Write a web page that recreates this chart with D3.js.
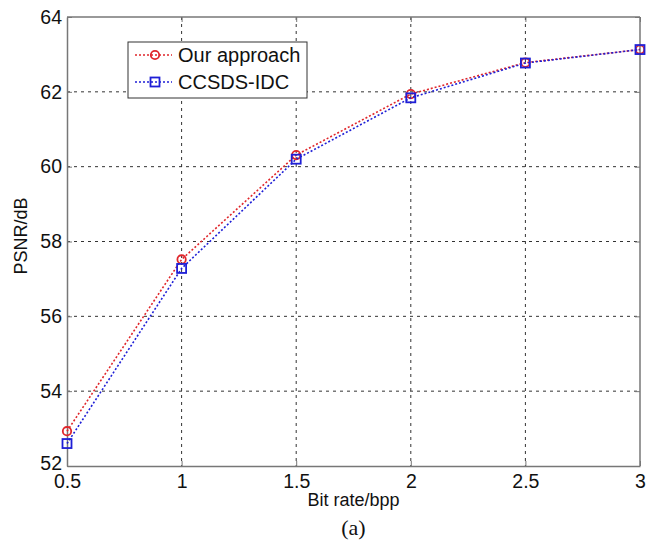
<!DOCTYPE html>
<html><head><meta charset="utf-8">
<script src="https://cdn.jsdelivr.net/npm/d3@7"></script>
<style>body{margin:0;background:#fff}</style>
</head><body>
<script>
const bitRates = [0.5, 1, 1.5, 2, 2.5, 3];
const ourApproach = [52.93, 57.52, 60.31, 61.94, 62.78, 63.13];
const ccsdsIdc = [52.60, 57.28, 60.20, 61.84, 62.77, 63.13];
const xTicks = [0.5, 1, 1.5, 2, 2.5, 3];
const xTickLabels = ["0.5", "1", "1.5", "2", "2.5", "3"];
const yTicks = [52, 54, 56, 58, 60, 62, 64];
const seriesNames = ["Our approach", "CCSDS-IDC"];

const W = 653, H = 544;
const m = {l: 67, r: 640, t: 17, b: 466};
const svg = d3.select("body").append("svg").attr("width", W).attr("height", H)
  .style("font-family", "'Liberation Sans', Arial, sans-serif");
svg.append("rect").attr("width", W).attr("height", H).attr("fill", "#fff");

const x = d3.scaleLinear().domain([0.5, 3]).range([m.l, m.r]);
const y = d3.scaleLinear().domain([52, 64]).range([m.b, m.t]);

// grid
const grid = svg.append("g");
grid.selectAll(".gx").data(xTicks.slice(1, -1)).enter().append("line")
  .attr("x1", d => x(d)).attr("x2", d => x(d)).attr("y1", m.t).attr("y2", m.b)
  .attr("stroke", "#333").attr("stroke-width", 1).attr("stroke-dasharray", "3,4");
grid.selectAll(".gy").data(yTicks.slice(1, -1)).enter().append("line")
  .attr("y1", d => y(d)).attr("y2", d => y(d)).attr("x1", m.l).attr("x2", m.r)
  .attr("stroke", "#333").attr("stroke-width", 1).attr("stroke-dasharray", "3,4");

// axes
const xAxis = d3.axisBottom(x).tickValues(xTicks).tickFormat((d, i) => xTickLabels[i]).tickSizeInner(-5).tickSizeOuter(0).tickPadding(8);
const yAxis = d3.axisLeft(y).tickValues(yTicks).tickSizeInner(-5).tickSizeOuter(0).tickPadding(5);
const gx = svg.append("g").attr("transform", `translate(0,${m.b})`).call(xAxis);
const gy = svg.append("g").attr("transform", `translate(${m.l},0)`).call(yAxis);
[gx, gy].forEach(g => {
  g.select(".domain").attr("stroke", "#777").attr("stroke-width", 1.5);
  g.selectAll(".tick line").attr("stroke", "#777");
  g.selectAll("text").attr("font-size", 19.5).attr("fill", "#111").attr("font-family", "'Liberation Sans', Arial, sans-serif");
});
gx.selectAll("text").attr("dy", "0.72em");
gy.selectAll("text").attr("dy", (d) => d === 52 ? "0.2em" : "0.32em");
// top & right frame
svg.append("line").attr("x1", m.l).attr("x2", m.r).attr("y1", m.t).attr("y2", m.t).attr("stroke", "#777").attr("stroke-width", 1.5);
svg.append("line").attr("x1", m.r).attr("x2", m.r).attr("y1", m.t).attr("y2", m.b).attr("stroke", "#777").attr("stroke-width", 1.5);
const gTop = svg.append("g").attr("transform", `translate(0,${m.t})`).call(d3.axisTop(x).tickValues(xTicks).tickSizeInner(-5).tickSizeOuter(0).tickFormat(""));
const gRight = svg.append("g").attr("transform", `translate(${m.r},0)`).call(d3.axisRight(y).tickValues(yTicks).tickSizeInner(-5).tickSizeOuter(0).tickFormat(""));
[gTop, gRight].forEach(g => { g.select(".domain").remove(); g.selectAll(".tick line").attr("stroke", "#777"); });

// series
const line = d3.line().x((d, i) => x(bitRates[i])).y(d => y(d));
const series = [
  {name: seriesNames[0], vals: ourApproach, color: "#e0262b", shape: "circle"},
  {name: seriesNames[1], vals: ccsdsIdc, color: "#1f1fd6", shape: "square"}
];
function marker(g, shape, cx, cy, color) {
  if (shape === "circle") {
    g.append("circle").attr("cx", cx).attr("cy", cy).attr("r", 4.2)
      .attr("fill", "none").attr("stroke", color).attr("stroke-width", 1.8);
  } else {
    g.append("rect").attr("x", cx - 4.5).attr("y", cy - 4.5).attr("width", 9).attr("height", 9)
      .attr("fill", "none").attr("stroke", color).attr("stroke-width", 1.8);
  }
}
series.forEach(s => {
  svg.append("path").attr("d", line(s.vals)).attr("fill", "none")
    .attr("stroke", s.color).attr("stroke-width", 1.6).attr("stroke-dasharray", "2,2");
  const g = svg.append("g");
  s.vals.forEach((v, i) => marker(g, s.shape, x(bitRates[i]), y(v), s.color));
});

// legend
const lg = svg.append("g");
lg.append("rect").attr("x", 128).attr("y", 42).attr("width", 179).attr("height", 56)
  .attr("fill", "#fff").attr("stroke", "#333").attr("stroke-width", 1);
series.forEach((s, i) => {
  const cy = 55 + i * 27;
  lg.append("line").attr("x1", 135).attr("x2", 172).attr("y1", cy).attr("y2", cy)
    .attr("stroke", s.color).attr("stroke-width", 1.6).attr("stroke-dasharray", "2,2");
  marker(lg, s.shape, 155, cy, s.color);
  lg.append("text").attr("x", 178).attr("y", cy).attr("dy", "0.36em")
    .attr("font-size", 20).attr("fill", "#111").text(s.name);
});

// axis labels
svg.append("text").attr("x", (m.l + m.r) / 2).attr("y", 506).attr("text-anchor", "middle")
  .attr("font-size", 18).attr("fill", "#111").text("Bit rate/bpp");
svg.append("text").attr("transform", `translate(27,236) rotate(-90)`)
  .attr("text-anchor", "middle").attr("font-size", 18).attr("fill", "#111").text("PSNR/dB");
svg.append("text").attr("x", (m.l + m.r) / 2).attr("y", 535).attr("text-anchor", "middle")
  .attr("font-size", 22).attr("fill", "#111").attr("font-family", "'Liberation Serif', 'Times New Roman', serif").text("(a)");
</script>
</body></html>
